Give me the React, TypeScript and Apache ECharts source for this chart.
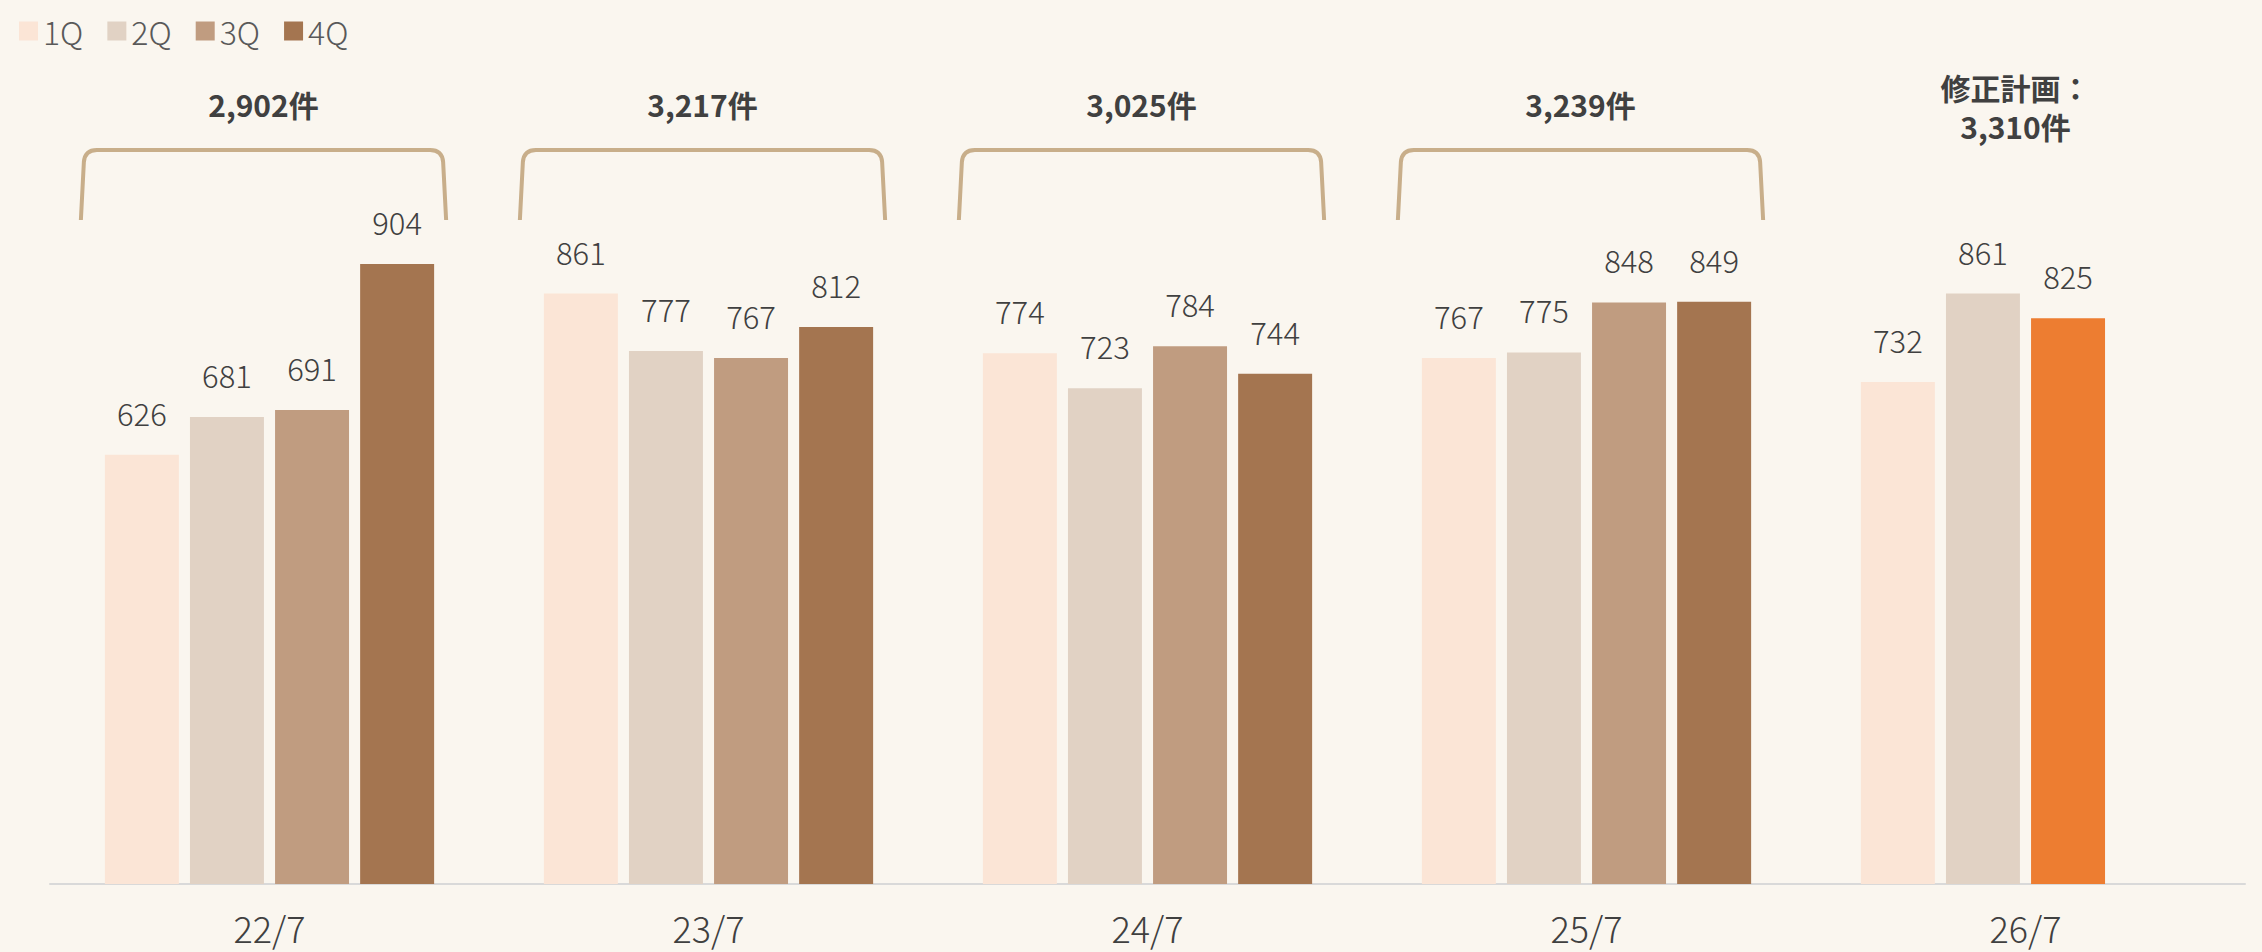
import React, { useEffect, useRef } from "react";
import * as echarts from "echarts";

const categories = ["22/7", "23/7", "24/7", "25/7", "26/7"];
const q1 = [626, 861, 774, 767, 732];
const q2 = [681, 777, 723, 775, 861];
const q3 = [691, 767, 784, 848, 825];
const q4: (number | null)[] = [904, 812, 744, 849, null];
const totals = ["2,902件", "3,217件", "3,025件", "3,239件", "修正計画：\n3,310件"];
const hasBracket = [true, true, true, true, false];
const planIndex = 4;

const FONT = "'Noto Sans CJK JP', 'Noto Sans', sans-serif";
const COLORS = ["#FBE5D6", "#E1D2C4", "#C09C80", "#A47550"];
const ORANGE = "#ED7D31";
const BG = "#FAF6EF";

export default function App() {
  const ref = useRef<HTMLDivElement>(null);
  useEffect(() => {
    if (!ref.current) return;
    document.body.style.margin = "0";
    document.body.style.background = BG;
    const chart = echarts.init(ref.current, null, { renderer: "svg" });
    const label = {
      show: true,
      position: "top",
      distance: 27,
      fontFamily: FONT,
      fontSize: 31,
      fontWeight: 300,
      color: "#404040",
    };
    const mkSeries = (name: string, data: any[], i: number) => ({
      name,
      type: "bar",
      data,
      barCategoryGap: "25%",
      barGap: "15%",
      itemStyle: { color: COLORS[i] },
      label,
      silent: true,
    });
    chart.setOption({
      animation: false,
      backgroundColor: BG,
      legend: {
        data: ["1Q", "2Q", "3Q", "4Q"],
        left: 14,
        top: 10,
        itemWidth: 19,
        itemHeight: 19,
        itemGap: 24,
        icon: "rect",
        textStyle: {
          fontFamily: FONT,
          fontSize: 32,
          fontWeight: 300,
          color: "#595959",
        },
      },
      grid: { left: 50, right: 17, top: 61, bottom: 68 },
      xAxis: {
        type: "category",
        data: categories,
        axisLine: { lineStyle: { color: "#D9D9D9", width: 2 } },
        axisTick: { show: false },
        axisLabel: { fontFamily: FONT, fontSize: 36, fontWeight: 300, color: "#404040", margin: 25 },
      },
      yAxis: { type: "value", min: 0, max: 1200, show: false, splitLine: { show: false } },
      series: [
        mkSeries("1Q", q1, 0),
        mkSeries("2Q", q2, 1),
        mkSeries(
          "3Q",
          q3.map((v, i) => (i === planIndex ? { value: v, itemStyle: { color: ORANGE } } : v)),
          2
        ),
        mkSeries("4Q", q4, 3),
        {
          type: "custom",
          silent: true,
          data: categories.map((_, i) => [i, 0]),
          renderItem: (params: any, api: any) => {
            const idx = params.dataIndex;
            const cx = api.coord([api.value(0), 0])[0] - 6;
            const band = api.size([1, 0])[0];
            const half = band * 0.416;
            const x0 = cx - half;
            const x1 = cx + half;
            const yTop = 150;
            const yBot = 220;
            const children: any[] = [];
            if (hasBracket[idx]) {
              const d =
                `M${x0},${yBot} L${x0 + 3},${yTop + 12} Q${x0 + 4},${yTop} ${x0 + 16},${yTop} ` +
                `L${x1 - 16},${yTop} Q${x1 - 4},${yTop} ${x1 - 3},${yTop + 12} L${x1},${yBot}`;
              children.push({
                type: "path",
                shape: { pathData: d },
                style: { stroke: "#C8AE8A", lineWidth: 4, fill: "none" },
              });
            }
            children.push({
              type: "text",
              style: {
                text: totals[idx],
                x: idx === planIndex ? cx - 4 : cx,
                y: idx === planIndex ? 106 : 104,
                align: "center",
                verticalAlign: "middle",
                fontFamily: FONT,
                fontSize: 30,
                fontWeight: "bold",
                lineHeight: 39,
                fill: "#404040",
              },
            });
            return { type: "group", children };
          },
          z: 10,
        },
      ],
    });
    return () => chart.dispose();
  }, []);
  return (
    <div
      ref={ref}
      style={{ position: "absolute", left: 0, top: 0, width: 2262, height: 952, background: BG }}
    />
  );
}
